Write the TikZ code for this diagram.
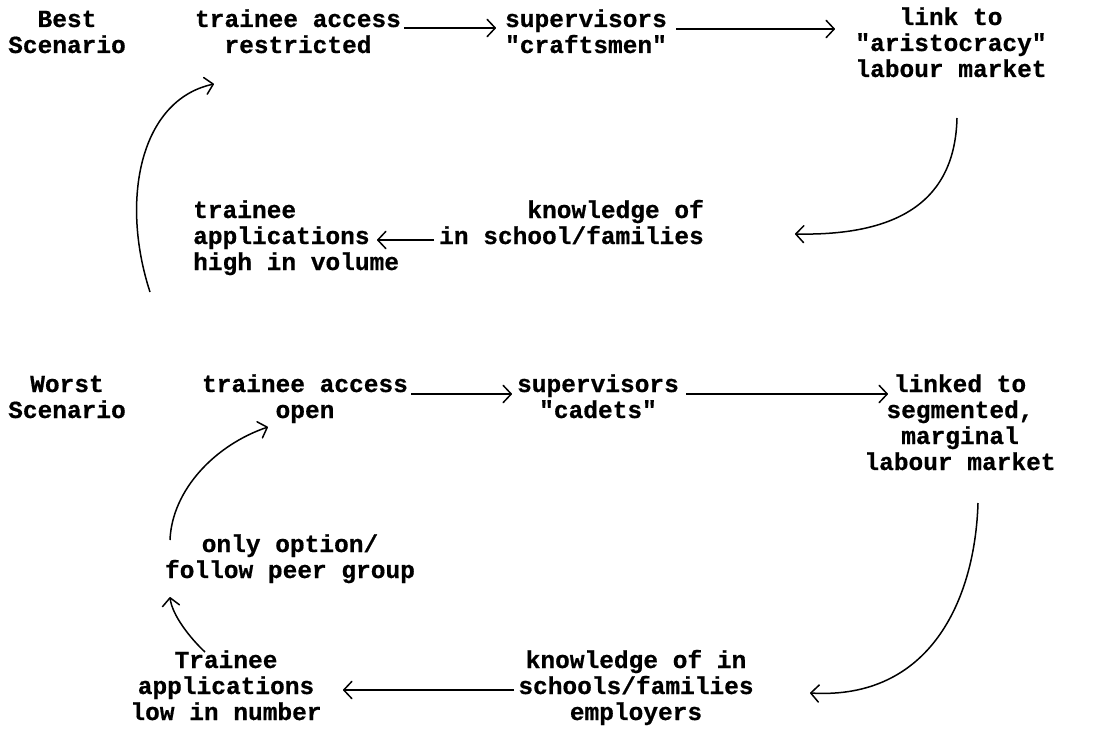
\documentclass[tikz,border=0pt]{standalone}
\usepackage{fontspec}
\newfontfamily\twf[BoldFeatures={FakeBold=0.6}]{Liberation Mono}
\usetikzlibrary{arrows.meta}
\begin{document}
\begin{tikzpicture}[x=1pt,y=-1pt,
  txt/.style={font=\twf\bfseries\fontsize{24.5}{26}\selectfont, inner sep=0pt, align=center, anchor=base},
  arr/.style={line width=1.5pt, -{Straight Barb[length=8pt,width=17pt,round]}}]
\fill[white] (0,0) rectangle (1103,749);
\useasboundingbox (0,0) rectangle (1103,749);
% Best scenario (node base = baseline of the last line)
\node[txt] (best) at (67,53) {Best\\Scenario};
\node[txt] (ta1) at (298,53) {trainee access\\restricted};
\node[txt] (sup1) at (586,53) {supervisors\\"craftsmen"};
\node[txt] (link1) at (951,77) {link to\\"aristocracy"\\labour market};
\node[txt, align=right, anchor=base east] (know1) at (704,244) {knowledge of\\in school/families};
\node[txt, align=left, anchor=base west] (tapp1) at (193,270) {trainee\\applications\\high in volume};
% Worst scenario
\node[txt] (worst) at (67,418) {Worst\\Scenario};
\node[txt] (ta2) at (305,418) {trainee access\\open};
\node[txt] (sup2) at (598,418) {supervisors\\"cadets"};
\node[txt] (link2) at (960,470) {linked to\\segmented,\\marginal\\labour market};
\node[txt] (only) at (290,578) {only option/\\follow peer group};
\node[txt] (know2) at (636,720) {knowledge of in\\schools/families\\employers};
\node[txt] (tapp2) at (226,720) {Trainee\\applications\\low in number};
% connectors, best
\draw[arr] ([shift={(106,-25)}]ta1.base) -- ([shift={(-90,-25)}]sup1.base);
\draw[arr] ([shift={(90,-24)}]sup1.base) -- ([shift={(-116,-48)}]link1.base);
\draw[arr] ([shift={(6,41)}]link1.base) .. controls (955,200) and (900,236) .. ([shift={(91,-10)}]know1.base east);
\draw[arr] ([shift={(-270,-4)}]know1.base east) -- ([shift={(184,-30)}]tapp1.base west);
\draw[arr] ([shift={(-43,22)}]tapp1.base west) .. controls (120,200) and (140,100) .. ([shift={(-84,31)}]ta1.base);
% connectors, worst
\draw[arr] ([shift={(106,-24)}]ta2.base) -- ([shift={(-86,-24)}]sup2.base);
\draw[arr] ([shift={(88,-24)}]sup2.base) -- ([shift={(-72,-76)}]link2.base);
\draw[arr] ([shift={(18,33)}]link2.base) .. controls (975,600) and (930,700) .. ([shift={(174,-27)}]know2.base);
\draw[arr] ([shift={(-122,-30)}]know2.base) -- ([shift={(117,-30)}]tapp2.base);
\draw[arr] ([shift={(-21,-68)}]tapp2.base) .. controls (190,638) and (172,615) .. ([shift={(-120,19)}]only.base);
\draw[arr] ([shift={(-120,-38)}]only.base) .. controls (172,490) and (215,445) .. ([shift={(-37,9)}]ta2.base);
\end{tikzpicture}
\end{document}
